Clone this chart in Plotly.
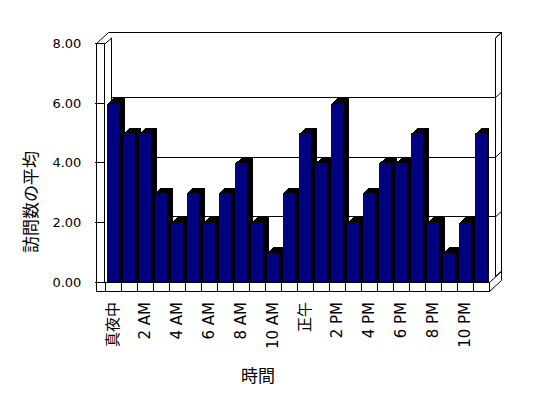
import plotly.graph_objects as go

# ---------------- data ----------------
hours = ['真夜中', '1 AM', '2 AM', '3 AM', '4 AM', '5 AM', '6 AM', '7 AM', '8 AM', '9 AM',
         '10 AM', '11 AM', '正午', '1 PM', '2 PM', '3 PM', '4 PM', '5 PM', '6 PM', '7 PM',
         '8 PM', '9 PM', '10 PM', '11 PM']
visits = [6, 5, 5, 3, 2, 3, 2, 3, 4, 2, 1, 3, 5, 4, 6, 2, 3, 4, 4, 5, 2, 1, 2, 5]
shown_labels = ['真夜中', '2 AM', '4 AM', '6 AM', '8 AM', '10 AM', '正午',
                '2 PM', '4 PM', '6 PM', '8 PM', '10 PM']
y_ticks = [0, 2, 4, 6, 8]
y_title = '訪問数の平均'
x_title = '時間'

# ---------------- geometry (screen pixels) ----------------
OFF = 8                    # page body margin
W, H = 532, 382            # figure size
FX0, FX1 = 105, 489        # front plot area x
FY0, FY1 = 282, 43.5       # front plot area y (value 0 / value 8)
DX, DY = 6, 5.5            # depth offset
WALL = 9                   # wall thickness (front faces)
YMAX = 8

def px(x):
    return (x - OFF) / W

def py(y):
    return 1 - (y - OFF) / H

LATIN = 'DejaVu Sans, Noto Sans CJK JP, sans-serif'
CJK = 'Noto Sans CJK JP, sans-serif'

def lab(t):
    if any(ord(c) > 0x3000 for c in t):
        return ('<span style="font-family:Noto Sans CJK JP;font-size:15px;color:black">'
                + t + '</span>')
    return t

ticktext = [lab(h) if h in shown_labels else '' for h in hours]

fig = go.Figure()

# empty trace so the back-wall subplot (gridlines) exists
fig.add_trace(go.Scatter(x=[], y=[], xaxis='x', yaxis='y', showlegend=False, hoverinfo='skip'))

bar_w = 0.78
cat_px = (FX1 - FX0) / len(hours)
unit_px = (FY0 - FY1) / YMAX
steps = 6
for k in range(steps, 0, -1):
    sx = k * (DX / steps) / cat_px
    sy = k * (DY / steps) / unit_px
    fig.add_trace(go.Bar(
        x=hours, y=[v + sy for v in visits], xaxis='x2', yaxis='y2',
        width=bar_w, offset=-bar_w / 2 + sx,
        marker=dict(color='#000000', line=dict(width=0)),
        showlegend=False, hoverinfo='skip'))

fig.add_trace(go.Bar(
    x=hours, y=visits, xaxis='x2', yaxis='y2',
    width=bar_w, offset=-bar_w / 2,
    marker=dict(color='#000080', line=dict(width=0)),
    showlegend=False, name=y_title))

# ---------------- frame shapes ----------------
def seg(x0, y0, x1, y1):
    return dict(type='line', xref='paper', yref='paper', layer='below',
                x0=px(x0), y0=py(y0), x1=px(x1), y1=py(y1),
                line=dict(color='black', width=1))

L = FX0 - WALL + 0.5          # outer left
BX0, BX1 = FX0 + DX + 0.5, FX1 + DX + 0.5
BT = FY1 - DY                 # back wall top
OT = BT - DY                  # outer top
OR = FX1 + 2 * DX + 0.5       # outer right
FB = FY0 + WALL + 0.5         # floor bottom
shapes = [
    seg(L, FY1, L, FB),
    seg(L, FY1, FX0 + 0.5, FY1),
    seg(L, FB, FX1 + 0.5, FB),
    seg(FX1 + 0.5, FY0, FX1 + 0.5, FB),
    seg(FX1 + 0.5, FB, OR, FB - 2 * DY),
    seg(FX1 + 0.5, FY0 + 0.5, OR, FY0 + 0.5 - 2 * DY),
    seg(OR, OT, OR, FB - 2 * DY),
    seg(L + 2 * DX, OT, OR, OT),
    seg(L, FY1, L + 2 * DX, OT),
    seg(FX0 + 0.5, FY1, BX0, BT),
    seg(BX1, BT, OR, OT),
    seg(BX0, BT, BX0, FY0 - DY),
    seg(BX1, BT, BX1, FY0 - DY),
]
for v in y_ticks:
    yb = FY0 - DY - v * unit_px
    shapes.append(seg(BX1, yb, OR, yb - DY))

annotations = [
    dict(text=y_title, textangle=-90, x=px(29), y=py(202), xref='paper', yref='paper',
         showarrow=False, font=dict(family=CJK, size=17, color='black'),
         xanchor='center', yanchor='middle'),
    dict(text=x_title, x=px(258), y=py(374), xref='paper', yref='paper',
         showarrow=False, font=dict(family=CJK, size=17, color='black'),
         xanchor='center', yanchor='middle'),
]

fig.update_layout(
    width=W, height=H,
    margin=dict(l=0, r=0, t=0, b=0, pad=0),
    paper_bgcolor='white', plot_bgcolor='rgba(0,0,0,0)',
    barmode='overlay', bargap=0,
    showlegend=False,
    shapes=shapes,
    annotations=annotations,
    xaxis=dict(domain=[px(FX0 + DX), px(FX1 + DX)], anchor='y', range=[0, 1],
               visible=False, fixedrange=True, automargin=False),
    yaxis=dict(domain=[py(FY0 - DY), py(FY1 - DY)], anchor='x', range=[0, YMAX],
               tickmode='array', tickvals=y_ticks, showgrid=True, gridcolor='black',
               gridwidth=1, showticklabels=False, ticks='', zeroline=False,
               showline=False, fixedrange=True, automargin=False),
    xaxis2=dict(domain=[px(FX0), px(FX1)], anchor='y2', type='category',
                categoryorder='array', categoryarray=hours, range=[-0.5, len(hours) - 0.5],
                tickmode='array', tickvals=hours, ticktext=ticktext,
                tickson='boundaries', ticks='outside', ticklen=WALL, tickwidth=1,
                tickcolor='black', showline=True, linecolor='black', linewidth=1,
                tickangle=-90, ticklabelstandoff=13, showgrid=False, zeroline=False,
                tickfont=dict(family=LATIN, size=15, color='black'), fixedrange=True,
                automargin=False),
    yaxis2=dict(domain=[py(FY0), py(FY1)], anchor='x2', range=[0, YMAX],
                tickmode='array', tickvals=y_ticks, tickformat='.2f',
                ticks='outside', ticklen=WALL, tickwidth=1, tickcolor='black',
                showline=True, linecolor='black', linewidth=1, showgrid=False,
                zeroline=False, ticklabelstandoff=11,
                tickfont=dict(family=LATIN, size=13, color='black'), fixedrange=True,
                automargin=False),
)

fig.write_html('out.html')
